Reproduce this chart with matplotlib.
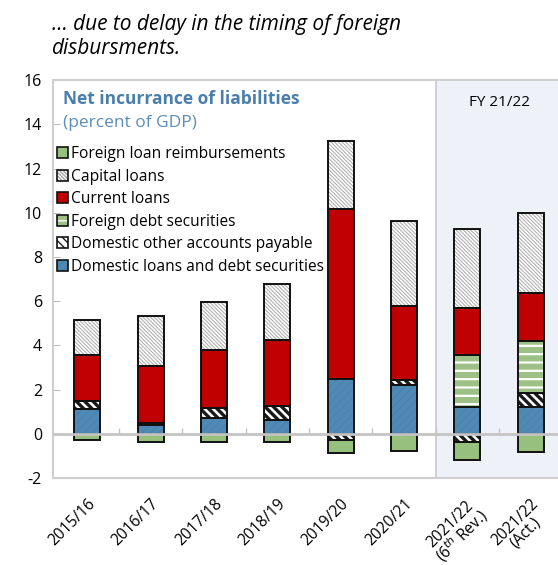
import numpy as np
import matplotlib
matplotlib.use("Agg")
import matplotlib.pyplot as plt
from matplotlib.patches import Patch
from matplotlib.legend_handler import HandlerTuple

plt.rcParams["font.family"] = ["Open Sans", "DejaVu Sans"]
plt.rcParams["axes.unicode_minus"] = False

# data (percent of GDP)
cats = ["2015/16", "2016/17", "2017/18", "2018/19", "2019/20", "2020/21",
        "2021/22\n(6$^{th}$ Rev.)", "2021/22\n(Act.)"]
dom_loans = [1.14, 0.39, 0.71, 0.61, 2.47, 2.23, 1.21, 1.20]
dom_other = [0.33, 0.12, 0.46, 0.66, -0.27, 0.22, -0.35, 0.66]
foreign_sec = [0, 0, 0, 0, 0, 0, 2.35, 2.32]
current = [2.08, 2.58, 2.60, 2.97, 7.70, 3.34, 2.15, 2.21]
capital = [1.62, 2.23, 2.18, 2.52, 3.07, 3.86, 3.58, 3.58]
foreign_reimb = [-0.29, -0.35, -0.35, -0.35, -0.58, -0.76, -0.83, -0.82]

# (label, values, face, hatch, hatch colour, hatch lw)
series = [
    ("Domestic loans and debt securities", dom_loans, "#4F89B5", "////", "#4A7FA8", 0.6),
    ("Domestic other accounts payable", dom_other, "white", "\\" * 4, "#1a1a1a", 2.4),
    ("Foreign debt securities", foreign_sec, "#9CC086", "--", "white", 1.6),
    ("Current loans", current, "#C00000", None, None, 1.0),
    ("Capital loans", capital, "white", "\\" * 9, "#A8A8A8", 0.7),
    ("Foreign loan reimbursements", foreign_reimb, "#97C07E", None, None, 1.0),
]

x = np.arange(len(cats))
w = 0.41

fig = plt.figure(figsize=(5.58, 5.65), dpi=100)
ax = fig.add_axes([0.095, 0.154, 0.905, 0.704])

pos = np.zeros(len(cats))
neg = np.zeros(len(cats))
handles = {}
for label, vals, fc, hatch, hc, hlw in series:
    v = np.array(vals, dtype=float)
    bottom = np.where(v >= 0, pos, neg)
    with plt.rc_context({"hatch.linewidth": hlw}):
        ax.bar(x, v, w, bottom=bottom, color=fc, hatch=hatch,
               edgecolor=hc if hc else fc, linewidth=0, zorder=2)
        h1 = Patch(facecolor=fc, hatch=hatch, edgecolor=hc if hc else fc, linewidth=0)
    ax.bar(x, v, w, bottom=bottom, fill=False, edgecolor="#111111",
           linewidth=1.4, zorder=3)
    h2 = Patch(fill=False, edgecolor="#111111", linewidth=1.2)
    handles[label] = (h1, h2)
    pos = pos + np.where(v > 0, v, 0)
    neg = neg + np.where(v < 0, v, 0)

# FY 21/22 shaded block
ax.axvspan(x[-2] - 0.5, x[-1] + 0.95, color="#EFF1F8", zorder=0, lw=0)
ax.axvline(x[-2] - 0.5, color="#C8C8C8", lw=1.2, zorder=1)
ax.text((x[-2] + x[-1]) / 2, 15.0, "FY 21/22", ha="center", va="center", fontsize=11)

# zero line with small separators
ax.axhline(0, color="#C4C4C4", lw=2, zorder=4)
ax.vlines(x[:-1] + 0.5, 0, 0.25, color="#C4C4C4", lw=1, zorder=4)

ax.set_xlim(-0.54, 7.43)
ax.set_ylim(-2, 16)
ax.set_yticks(np.arange(-2, 17, 2))
ax.tick_params(axis="y", direction="in", length=5, color="#BFBFBF", labelsize=11.5, pad=8)
ax.set_xticks(x)
ax.set_xticklabels(cats, rotation=45, ha="right", rotation_mode="anchor",
                   multialignment="center", fontsize=11.2, linespacing=0.85)
ax.tick_params(axis="x", length=0, pad=13)
for s in ["left", "bottom", "top"]:
    ax.spines[s].set_color("#CFCFCF")
    ax.spines[s].set_linewidth(1.5)
ax.spines["right"].set_visible(False)

# legend block
ax.text(0.02, 0.975, "Net incurrance of liabilities", transform=ax.transAxes,
        ha="left", va="top", fontsize=12.5, fontweight="bold", color="#4A7EAD")
ax.text(0.02, 0.912, "(percent of GDP)", transform=ax.transAxes,
        ha="left", va="top", fontsize=12.5, color="#5B8CBB")
order = ["Foreign loan reimbursements", "Capital loans", "Current loans",
         "Foreign debt securities", "Domestic other accounts payable",
         "Domestic loans and debt securities"]
ax.legend([handles[k] for k in order], order, loc="upper left",
          bbox_to_anchor=(-0.005, 0.85), frameon=False, fontsize=11.2,
          handler_map={tuple: HandlerTuple(ndivide=1)},
          handlelength=0.7, handleheight=0.7, handletextpad=0.2,
          labelspacing=0.42, borderaxespad=0)

fig.text(0.093, 0.975, "\u2026 due to delay in the timing of foreign\ndisbursments.",
         ha="left", va="top", fontsize=15, style="italic", linespacing=1.2)

fig.savefig("out.png", dpi=100)
